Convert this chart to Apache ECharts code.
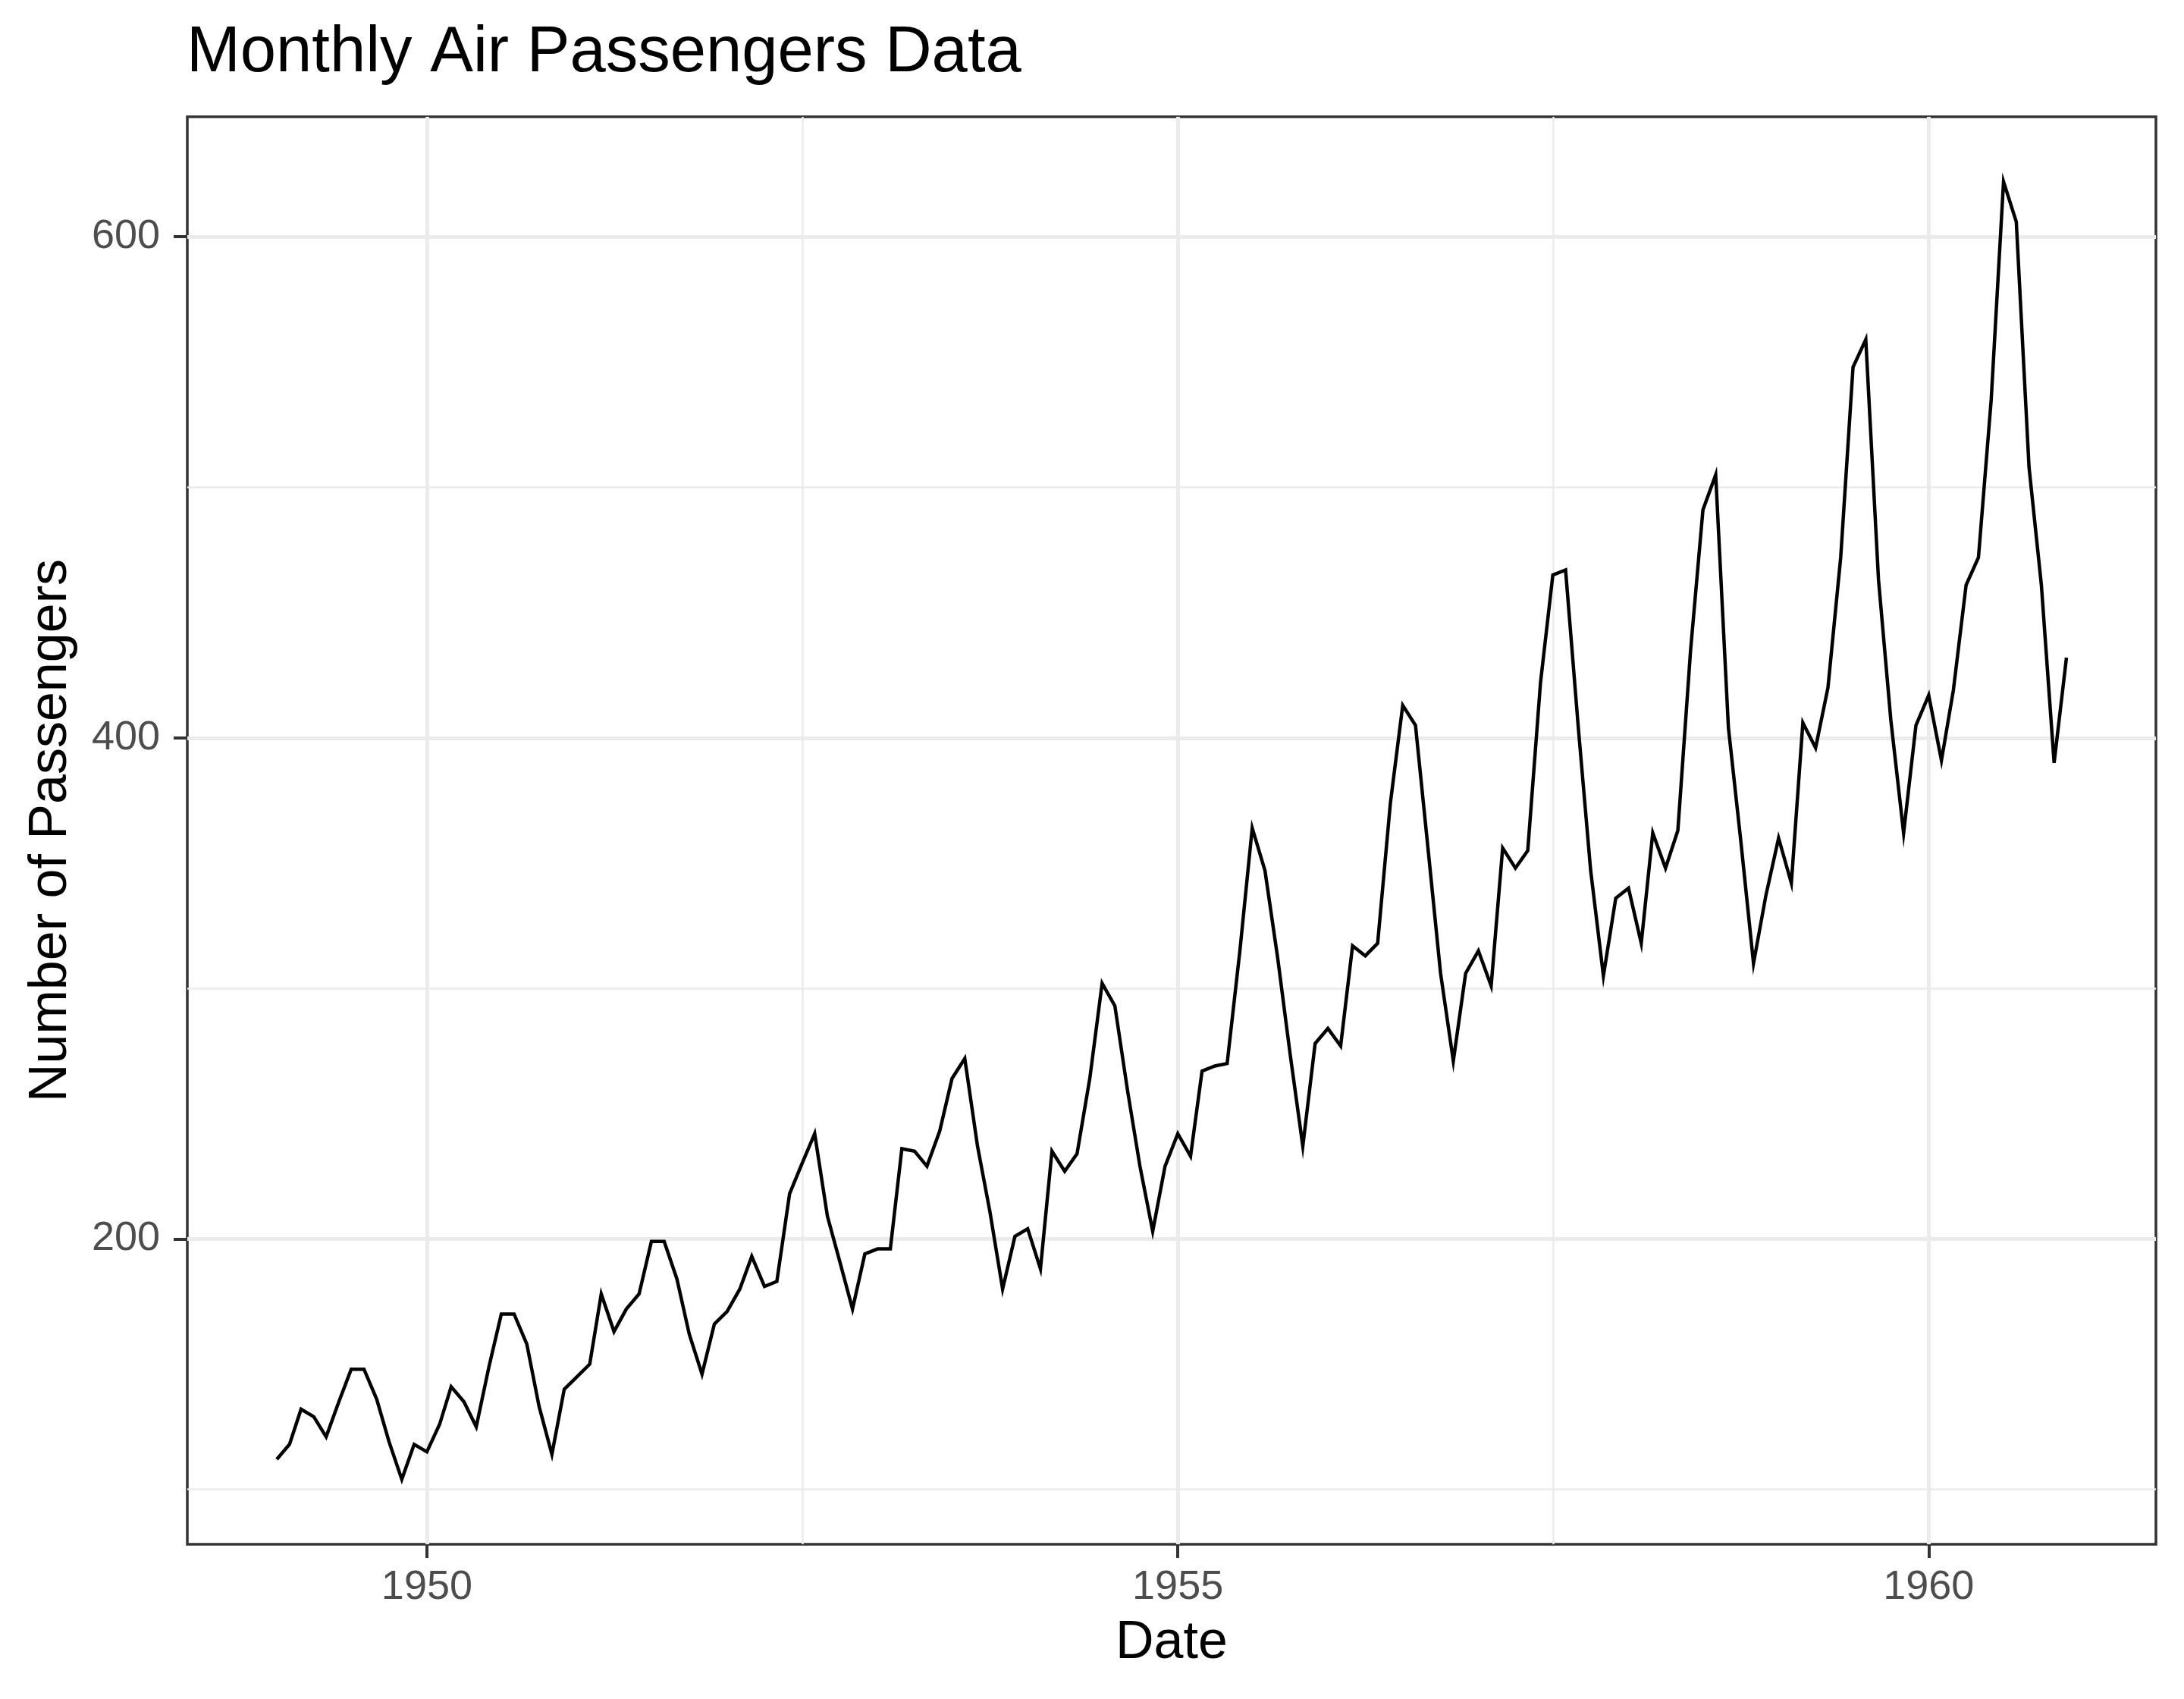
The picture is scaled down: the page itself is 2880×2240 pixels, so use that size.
<!DOCTYPE html>
<html>
<head>
<meta charset="utf-8">
<title>Monthly Air Passengers Data</title>
<script src="https://cdn.jsdelivr.net/npm/echarts@6.0.0/dist/echarts.min.js"></script>
<style>
  html, body { margin: 0; padding: 0; background: #fff; }
  #chart { width: 2880px; height: 2240px; }
</style>
</head>
<body>
<div id="chart"></div>
<script>
// monthly totals, Jan..Dec, thousands of passengers
const years = [1949, 1950, 1951, 1952, 1953, 1954, 1955, 1956, 1957, 1958, 1959, 1960];
const p1949 = [112, 118, 132, 129, 121, 135, 148, 148, 136, 119, 104, 118];
const p1950 = [115, 126, 141, 135, 125, 149, 170, 170, 158, 133, 114, 140];
const p1951 = [145, 150, 178, 163, 172, 178, 199, 199, 184, 162, 146, 166];
const p1952 = [171, 180, 193, 181, 183, 218, 230, 242, 209, 191, 172, 194];
const p1953 = [196, 196, 236, 235, 229, 243, 264, 272, 237, 211, 180, 201];
const p1954 = [204, 188, 235, 227, 234, 264, 302, 293, 259, 229, 203, 229];
const p1955 = [242, 233, 267, 269, 270, 315, 364, 347, 312, 274, 237, 278];
const p1956 = [284, 277, 317, 313, 318, 374, 413, 405, 355, 306, 271, 306];
const p1957 = [315, 301, 356, 348, 355, 422, 465, 467, 404, 347, 305, 336];
const p1958 = [340, 318, 362, 348, 363, 435, 491, 505, 404, 359, 310, 337];
const p1959 = [360, 342, 406, 396, 420, 472, 548, 559, 463, 407, 362, 405];
const p1960 = [417, 391, 419, 461, 472, 535, 622, 606, 508, 461, 390, 432];
const yearly = [p1949, p1950, p1951, p1952, p1953, p1954, p1955, p1956, p1957, p1958, p1959, p1960];

const xBreakYears = [1950, 1955, 1960];
const yBreaks = [200, 400, 600];
const yMinorBreaks = [100, 300, 500];

const jan1 = y => Date.UTC(y, 0, 1);

// x is a timestamp (ms), like a Date scale
const points = [];
years.forEach((y, i) => {
  yearly[i].forEach((v, m) => points.push([Date.UTC(y, m, 1), v]));
});

const xBreaks = xBreakYears.map(jan1);
const xMinorBreaks = [];
for (let i = 0; i < xBreaks.length - 1; i++) {
  xMinorBreaks.push((xBreaks[i] + xBreaks[i + 1]) / 2);
}

// ggplot-style 5% expansion of the data range
function expand(lo, hi) {
  const d = (hi - lo) * 0.05;
  return [lo - d, hi + d];
}
const xs = points.map(p => p[0]);
const ys = points.map(p => p[1]);
const xRange = expand(Math.min(...xs), Math.max(...xs));
const yRange = expand(Math.min(...ys), Math.max(...ys));

const FONT = '"Liberation Sans", Arial, sans-serif';
const GRID_COLOR = '#EBEBEB';

const gridLines = [];
xBreaks.forEach(v => gridLines.push({ xAxis: v, lineStyle: { width: 5 } }));
xMinorBreaks.forEach(v => gridLines.push({ xAxis: v, lineStyle: { width: 2.5 } }));
yBreaks.forEach(v => gridLines.push({ yAxis: v, lineStyle: { width: 5 } }));
yMinorBreaks.forEach(v => gridLines.push({ yAxis: v, lineStyle: { width: 2.5 } }));

const chart = echarts.init(document.getElementById('chart'), null, { renderer: 'canvas' });

chart.setOption({
  backgroundColor: '#fff',
  animation: false,
  title: {
    text: 'Monthly Air Passengers Data',
    left: 246,
    top: 28,
    padding: 0,
    textStyle: { fontFamily: FONT, fontSize: 85, fontWeight: 'normal', color: '#000' }
  },
  grid: {
    left: 247,
    right: 37,
    top: 154,
    bottom: 204,
    show: true,
    borderColor: '#333333',
    borderWidth: 3.5,
    backgroundColor: '#fff'
  },
  xAxis: {
    type: 'value',
    min: xRange[0],
    max: xRange[1],
    name: 'Date',
    nameLocation: 'middle',
    nameGap: 96,
    nameTextStyle: { fontFamily: FONT, fontSize: 70, color: '#000' },
    axisLine: { show: false },
    axisTick: {
      show: true,
      customValues: xBreaks,
      length: 18,
      lineStyle: { color: '#333333', width: 4 }
    },
    axisLabel: {
      customValues: xBreaks,
      margin: 30,
      fontFamily: FONT,
      fontSize: 54,
      color: '#4D4D4D',
      formatter: v => String(new Date(v).getUTCFullYear())
    },
    splitLine: { show: false }
  },
  yAxis: {
    type: 'value',
    min: yRange[0],
    max: yRange[1],
    name: 'Number of Passengers',
    nameLocation: 'middle',
    nameGap: 144,
    nameTextStyle: { fontFamily: FONT, fontSize: 70, color: '#000' },
    axisLine: { show: false },
    axisTick: {
      show: true,
      customValues: yBreaks,
      length: 18,
      lineStyle: { color: '#333333', width: 4 }
    },
    axisLabel: {
      customValues: yBreaks,
      margin: 36,
      fontFamily: FONT,
      fontSize: 54,
      color: '#4D4D4D'
    },
    splitLine: { show: false }
  },
  series: [
    {
      type: 'line',
      data: points,
      showSymbol: false,
      symbol: 'none',
      z: 3,
      lineStyle: { color: '#000', width: 4.5, join: 'miter' },
      markLine: {
        z: 1,
        silent: true,
        symbol: ['none', 'none'],
        label: { show: false },
        lineStyle: { color: GRID_COLOR, type: 'solid' },
        emphasis: { disabled: true },
        data: gridLines
      }
    }
  ]
});
</script>
</body>
</html>
